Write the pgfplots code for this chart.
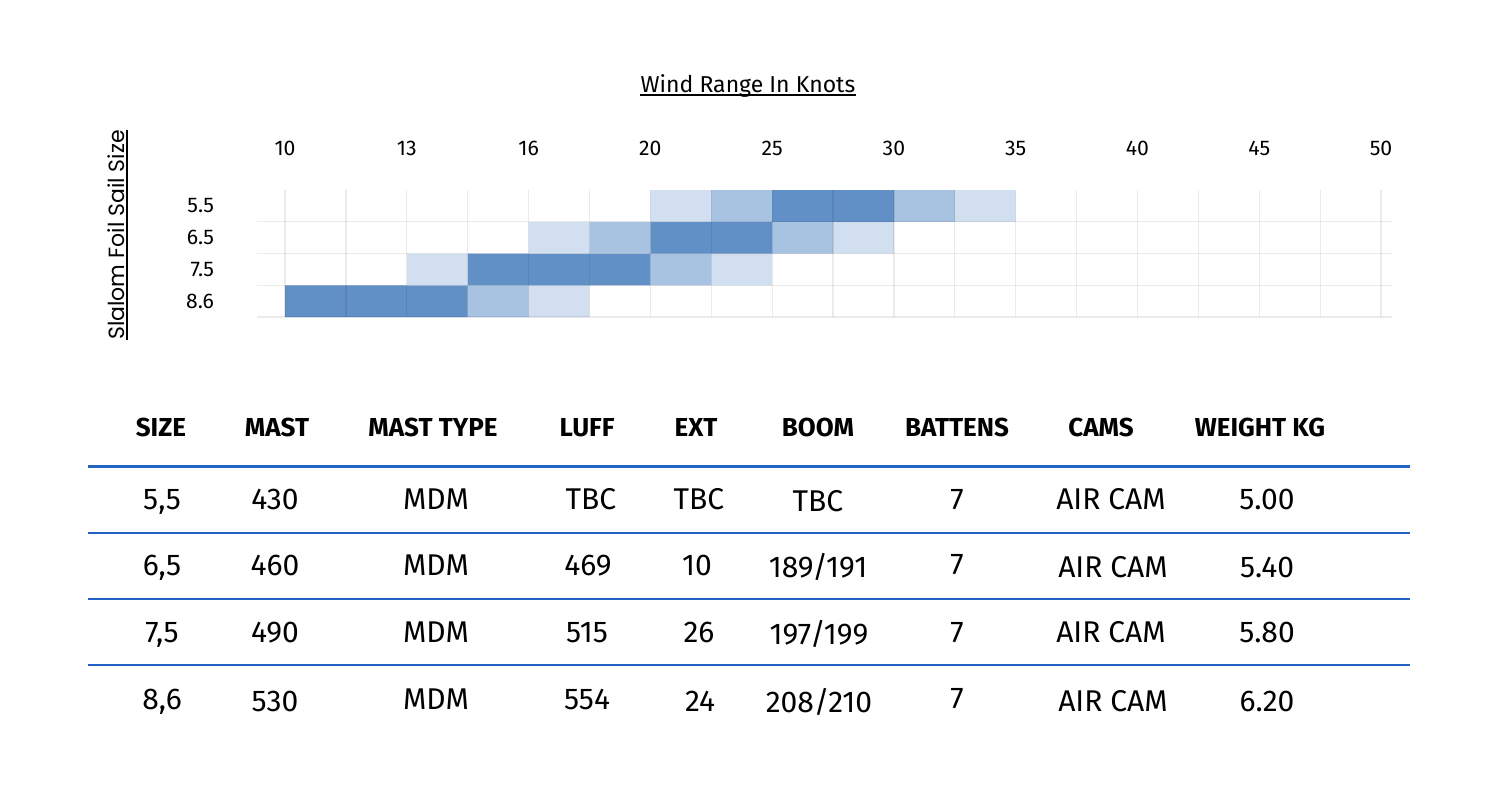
\documentclass[border=0pt]{standalone}
\usepackage{fontspec}
\setmainfont{Fira Sans}
\newfontfamily\poppins{Poppins}
\usepackage{pgfplots}
\pgfplotsset{compat=1.18}
\definecolor{cdark}{RGB}{97,144,198}
\definecolor{cmed}{RGB}{168,194,225}
\definecolor{clight}{RGB}{210,223,240}
\definecolor{tblue}{RGB}{36,98,196}
\newcommand{\hdr}[2]{\node[anchor=base,inner sep=0pt,font=\fontsize{13pt}{15pt}\selectfont\bfseries] at (#1,436) {#2};}
\newcommand{\cell}[3]{\node[anchor=base,inner sep=0pt,font=\fontsize{15pt}{18pt}\selectfont] at (#1,#2) {#3};}
\begin{document}
\begin{tikzpicture}[x=0.5pt,y=-0.5pt]
\path[use as bounding box] (0,0) rectangle (1500,789);
\begin{axis}[
  at={(128.5pt,-158.5pt)}, anchor=south west,
  scale only axis, width=567.5pt, height=63.5pt,
  xmin=-0.46, xmax=18.18, ymin=0, ymax=4,
  xbar stacked, bar width=1,
  axis on top,
  axis line style={draw=none},
  major tick length=0pt, minor tick length=0pt,
  xtick={0,2,...,18},
  xticklabels={10,13,16,20,25,30,35,40,45,50},
  minor xtick={1,3,...,17},
  xmajorgrids, xminorgrids,
  xticklabel pos=upper,
  ytick={0.5,1.5,2.5,3.5},
  yticklabels={8.6,7.5,6.5,5.5},
  minor ytick={0,1,2,3},
  ymajorgrids=false, yminorgrids,
  major grid style={black, opacity=0.08, line width=0.6pt},
  minor grid style={black, opacity=0.08, line width=0.6pt},
  /pgf/number format/assume math mode=true,
  ticklabel style={font=\fontsize{10.6pt}{12pt}\selectfont},
  xticklabel style={anchor=base, yshift=17.5pt},
  yticklabel style={xshift=-18pt},
]
\addplot[draw=none, fill=none] coordinates {(0,0.5) (2,1.5) (4,2.5) (6,3.5)};
\addplot[draw=none, fill=clight] coordinates {(0,0.5) (1,1.5) (1,2.5) (1,3.5)};
\addplot[draw=none, fill=cmed] coordinates {(0,0.5) (0,1.5) (1,2.5) (1,3.5)};
\addplot[draw=none, fill=cdark] coordinates {(3,0.5) (3,1.5) (2,2.5) (2,3.5)};
\addplot[draw=none, fill=cmed] coordinates {(1,0.5) (1,1.5) (1,2.5) (1,3.5)};
\addplot[draw=none, fill=clight] coordinates {(1,0.5) (1,1.5) (1,2.5) (1,3.5)};
\end{axis}
% title
\node[anchor=base,inner sep=0pt,font=\fontsize{11.5pt}{13pt}\selectfont] (t) at (748,92) {Wind Range In Knots};
\draw[line width=1pt] ([yshift=-1.6pt]t.base west) -- ([yshift=-1.6pt]t.base east);
% y label
\node[anchor=base,inner sep=0pt,rotate=90,font=\poppins\fontsize{11pt}{13pt}\selectfont] (yl) at (124,235) {Slalom Foil Sail Size};
\draw[line width=1pt] ([xshift=1.3pt]yl.base west) -- ([xshift=1.3pt]yl.base east);
% table header
\hdr{161}{SIZE}
\hdr{277}{MAST}
\hdr{433}{MAST TYPE}
\hdr{587}{LUFF}
\hdr{696}{EXT}
\hdr{818}{BOOM}
\hdr{957}{BATTENS}
\hdr{1101}{CAMS}
\hdr{1260}{WEIGHT KG}
% lines
\foreach \yy in {466.5,533,599,665}
  \draw[tblue, line width=1.1pt] (88,\yy) -- (1410,\yy);
% row 1
\cell{162}{509}{5,5}
\cell{275}{509}{430}
\cell{436}{509}{MDM}
\cell{591}{509}{TBC}
\cell{699}{509}{TBC}
\cell{818}{511}{TBC}
\cell{957}{509}{7}
\cell{1111}{509}{AIR CAM}
\cell{1267}{509}{5.00}
% row 2
\cell{162}{575}{6,5}
\cell{275}{575}{460}
\cell{436}{575}{MDM}
\cell{588}{575}{469}
\cell{697}{575}{10}
\cell{818}{577.5}{189/191}
\cell{957}{574}{7}
\cell{1113}{577.5}{AIR CAM}
\cell{1267}{577.5}{5.40}
% row 3
\cell{162}{642.5}{7,5}
\cell{275}{642.5}{490}
\cell{436}{642.5}{MDM}
\cell{587}{642.5}{515}
\cell{699}{642.5}{26}
\cell{819}{644}{197/199}
\cell{957}{642.5}{7}
\cell{1111}{642.5}{AIR CAM}
\cell{1267}{642.5}{5.80}
% row 4
\cell{162}{709}{8,6}
\cell{275}{711}{530}
\cell{436}{709}{MDM}
\cell{587}{709}{554}
\cell{700}{711}{24}
\cell{819}{712}{208/210}
\cell{957}{708}{7}
\cell{1113}{711}{AIR CAM}
\cell{1267}{711}{6.20}
\end{tikzpicture}
\end{document}
